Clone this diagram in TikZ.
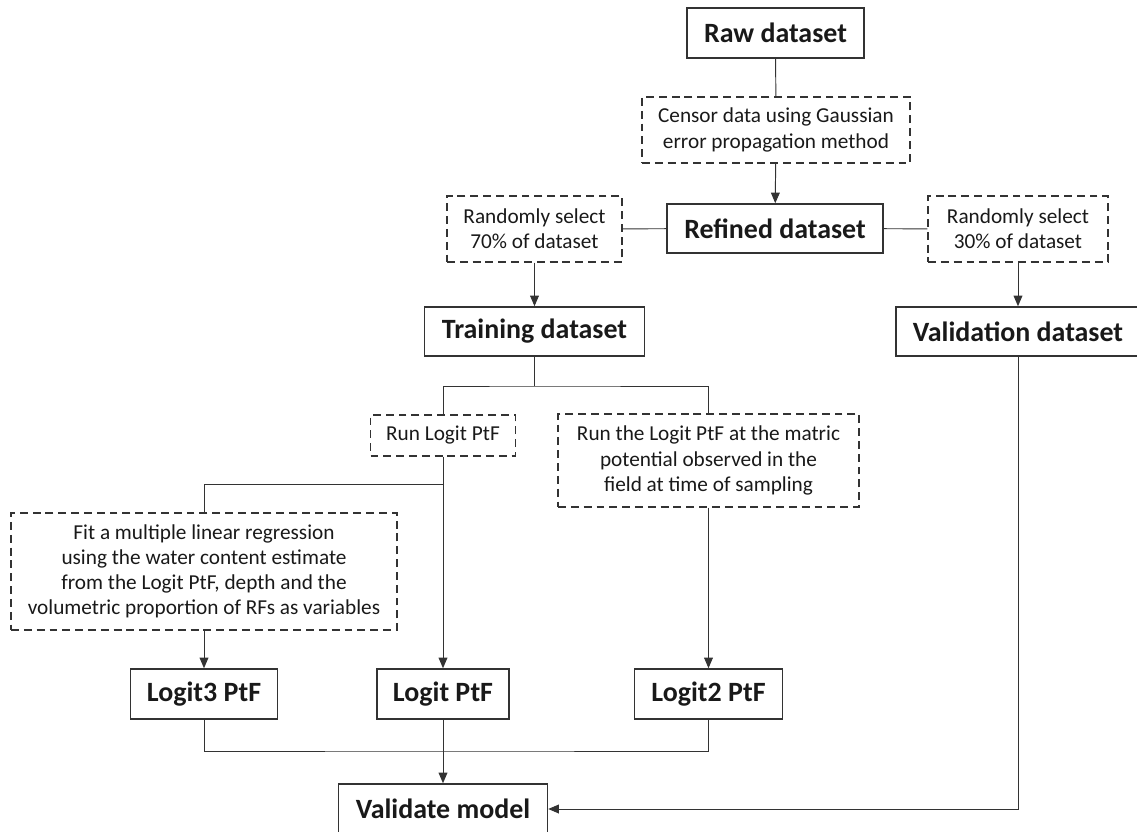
\documentclass[tikz,border=0pt]{standalone}
\usepackage{fontspec}
\setmainfont{Carlito}
\usetikzlibrary{positioning,arrows.meta}

\begin{document}
\begin{tikzpicture}[x=0.02cm, y=-0.02cm,
    databox/.style={draw=black!80, line width=0.9pt, align=center, inner sep=0pt,
        font=\fontsize{15.9}{18}\selectfont\bfseries, text=black!90},
    taskbox/.style={draw=black!80, line width=0.8pt, dash pattern=on 4.5pt off 2.8pt,
        align=center, inner sep=0pt, font=\fontsize{12.1}{14.3}\selectfont, text=black!90},
    flow/.style={draw=black!80, line width=0.55pt},
    >={Triangle[length=6pt, width=5pt]}]

    \useasboundingbox (0,0) rectangle (1137,832);

    \node[databox, minimum width=3.54cm, minimum height=1cm]    (raw)        at (775.5,33)  {Raw dataset};
    \node[taskbox, minimum width=5.36cm, minimum height=1.32cm] (censor)     at (776,130)   {Censor data using Gaussian\\error propagation method};
    \node[databox, minimum width=4.32cm, minimum height=0.98cm] (refined)    at (775,228.5) {Refined dataset};
    \node[taskbox, minimum width=3.5cm, minimum height=1.32cm]  (select70)   at (534.5,229) {Randomly select\\70\% of dataset};
    \node[taskbox, minimum width=3.6cm, minimum height=1.32cm]  (select30)   at (1018,229)  {Randomly select\\30\% of dataset};
    \node[databox, minimum width=4.4cm, minimum height=0.98cm]  (training)   at (534.5,331.5) {Training dataset};
    \node[databox, minimum width=4.88cm, minimum height=0.98cm] (validation) at (1018,331.5) {Validation dataset};

    \node[taskbox, minimum width=2.9cm, minimum height=0.82cm]  (runlogit)   at (443,435.5) {Run Logit PtF};
    \node[taskbox, minimum width=6.02cm, minimum height=1.86cm] (runmatric)  at (708.5,460.5) {Run the Logit PtF at the matric\\potential observed in the\\field at time of sampling};
    \node[taskbox, minimum width=7.72cm, minimum height=2.34cm] (fitmlr)     at (204,571.5) {Fit a multiple linear regression\\using the water content estimate\\from the Logit PtF, depth and the\\volumetric proportion of RFs as variables};

    \node[databox, minimum width=2.94cm, minimum height=1cm]    (logit3)     at (204,694)   {Logit3 PtF};
    \node[databox, minimum width=2.64cm, minimum height=1cm]    (logit)      at (443,694)   {Logit PtF};
    \node[databox, minimum width=2.96cm, minimum height=1cm]    (logit2)     at (708.5,694) {Logit2 PtF};
    \node[databox, minimum width=4.18cm, minimum height=1cm]    (validate)   at (443,809)   {Validate model};

    \coordinate (split1) at (534.5,386);
    \coordinate (split2) at (443,484);
    \coordinate (join)   at (443,751);

    \draw[flow] (raw) -- (censor);
    \draw[flow,->] (censor) -- (refined);
    \draw[flow] (select70) -- (refined) -- (select30);
    \draw[flow,->] (select70) -- (training);
    \draw[flow,->] (select30) -- (validation);
    \draw[flow] (training) -- (split1);
    \draw[flow] (runlogit) |- (split1) -| (runmatric);
    \draw[flow] (split2) -| (fitmlr);
    \draw[flow,->] (runlogit) -- (logit);
    \draw[flow,->] (fitmlr) -- (logit3);
    \draw[flow,->] (runmatric) -- (logit2);
    \draw[flow] (logit3) |- (join) -| (logit2);
    \draw[flow,->] (logit) -- (validate);
    \draw[flow,->] (validation) |- (validate);

\end{tikzpicture}
\end{document}
